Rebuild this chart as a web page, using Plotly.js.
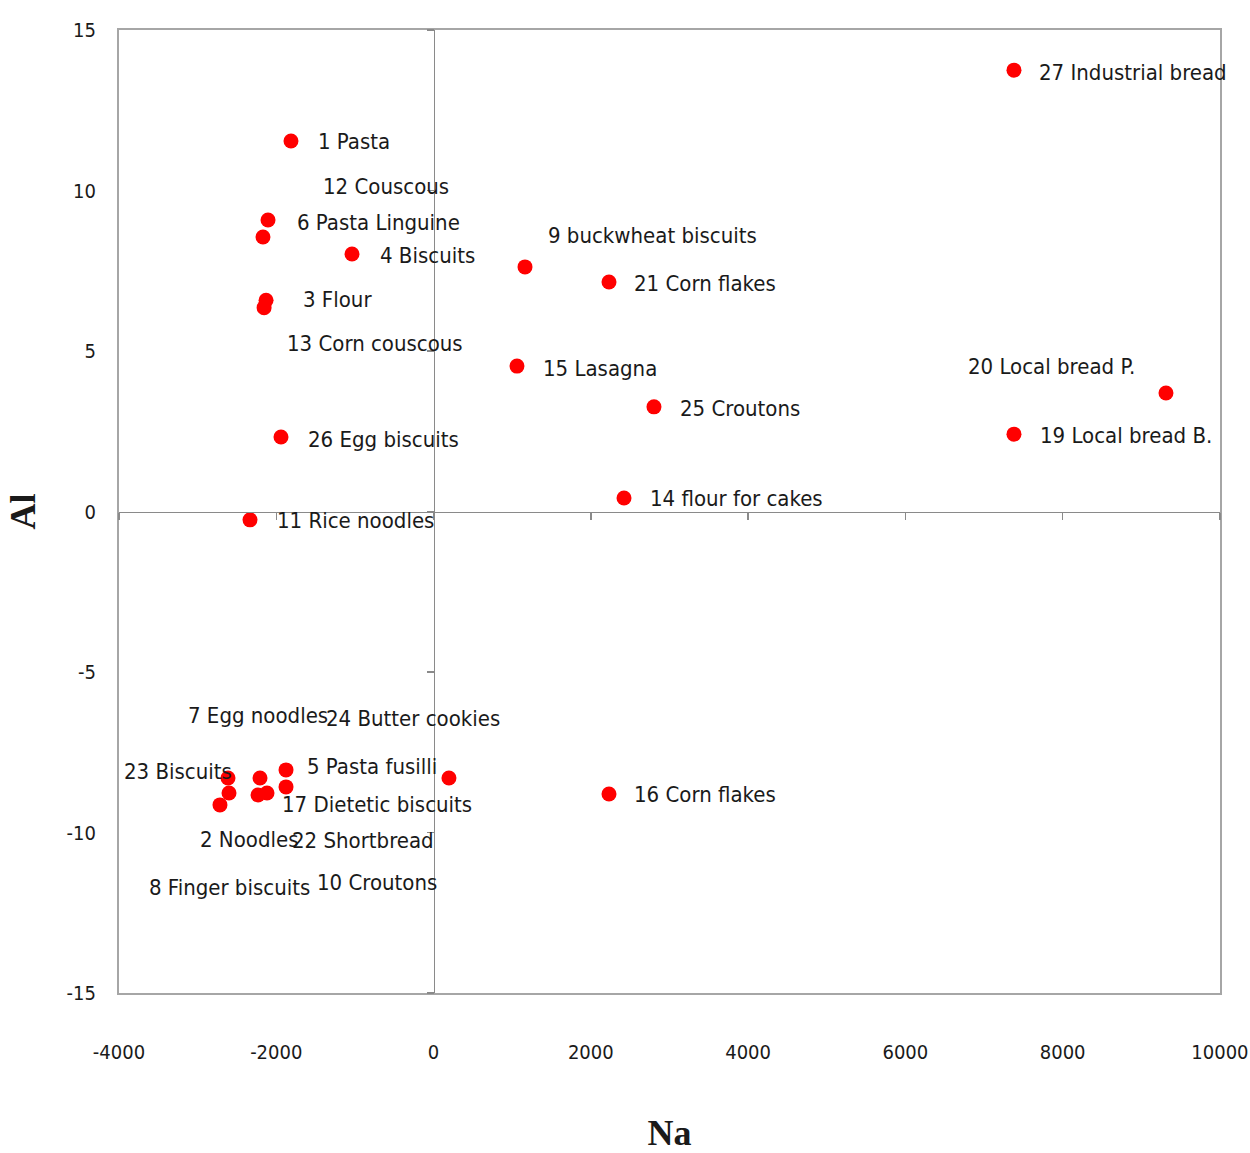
<!DOCTYPE html>
<html>
<head>
<meta charset="utf-8">
<script src="https://cdn.plot.ly/plotly-3.0.1.min.js"></script>
<style>
  html, body { margin: 0; padding: 0; background: #ffffff; }
  #chart { width: 1250px; height: 1153px; }
</style>
</head>
<body>
<div id="chart"></div>
<script>
// Food products: Na (x) vs Al (y)
const names = [
  "1 Pasta", "12 Couscous", "6 Pasta Linguine", "4 Biscuits", "3 Flour",
  "13 Corn couscous", "9 buckwheat biscuits", "21 Corn flakes", "15 Lasagna",
  "25 Croutons", "20 Local bread P.", "19 Local bread B.", "26 Egg biscuits",
  "14 flour for cakes", "11 Rice noodles", "27 Industrial bread", "16 Corn flakes",
  "24 Butter cookies", "7 Egg noodles", "23 Biscuits", "5 Pasta fusilli",
  "17 Dietetic biscuits", "2 Noodles", "22 Shortbread", "8 Finger biscuits",
  "10 Croutons"
];
const naValues = [
  -1813, -2105, -2169, -1037, -2130,
  -2155, 1163, 2231, 1061,
  2803, 9314, 7381, -1940,
  2422, -2334, 7381, 2231,
  196, -2207, -2614, -1876,
  -1876, -2716, -2118, -2601,
  -2232
];
const alValues = [
  11.54, 9.08, 8.55, 8.02, 6.58,
  6.35, 7.62, 7.15, 4.53,
  3.26, 3.69, 2.41, 2.32,
  0.42, -0.26, 13.75, -8.80,
  -8.30, -8.30, -8.30, -8.05,
  -8.58, -9.14, -8.77, -8.77,
  -8.83
];
const xTicks = [-4000, -2000, 0, 2000, 4000, 6000, 8000, 10000];
const yTicks = [-15, -10, -5, 0, 5, 10, 15];

// Pixel offsets of each data label from its point (right, up)
const labelShiftX = [25, 53, 32, 26, 35, 21, 21, 23, 24, 24, -200, 24, 25, 24, 25, 23, 23, -125, -74, -106, 19, -6, -22, 23, -82, 57];
const labelShiftY = [0, 34, 15, -1, 1, -36, 31, -2, -2, -2, 27, -1, -2, 0, -1, -2, -1, 59, 62, 6, 3, -18, -35, -47, -94, -88];

const labelFont = "'DejaVu Sans Condensed', 'Liberation Sans Narrow', sans-serif";
const xRange = [-4000, 10001];
const yRange = [-15, 15];

const traces = [
  {
    type: "scatter",
    mode: "markers",
    x: naValues,
    y: alValues,
    marker: { color: "#ff0000", size: 15, line: { width: 0 } },
    hoverinfo: "text",
    text: names,
    showlegend: false
  },
  {
    // carries the axes that cross at the origin
    type: "scatter",
    mode: "markers",
    x: [],
    y: [],
    xaxis: "x2",
    yaxis: "y2",
    showlegend: false
  }
];

const annotations = names.map((name, i) => ({
  x: naValues[i],
  y: alValues[i],
  xref: "x",
  yref: "y",
  text: name,
  showarrow: false,
  xanchor: "left",
  yanchor: "middle",
  xshift: labelShiftX[i],
  yshift: labelShiftY[i],
  font: { family: labelFont, size: 22, color: "#1a1a1a" }
}));

const tickFont = { family: labelFont, size: 20, color: "#1a1a1a" };

const layout = {
  width: 1250,
  height: 1153,
  margin: { l: 119, r: 30, t: 30, b: 160 },
  paper_bgcolor: "#ffffff",
  plot_bgcolor: "#ffffff",
  showlegend: false,
  xaxis: {
    range: xRange,
    tickvals: xTicks,
    ticktext: xTicks.map(String),
    showgrid: false,
    zeroline: false,
    showline: true,
    mirror: true,
    linecolor: "#a6a6a6",
    linewidth: 2,
    ticks: "",
    ticklabelstandoff: 40,
    tickfont: tickFont,
    title: {
      text: "Na",
      standoff: 59,
      font: { family: "'Liberation Serif', 'DejaVu Serif', serif", size: 36, weight: "bold", color: "#1a1a1a" }
    }
  },
  yaxis: {
    range: yRange,
    tickvals: yTicks,
    ticktext: yTicks.map(String),
    showgrid: false,
    zeroline: false,
    showline: true,
    mirror: true,
    linecolor: "#a6a6a6",
    linewidth: 2,
    ticks: "",
    ticklabelstandoff: 17,
    tickfont: tickFont,
    title: {
      text: "Al",
      standoff: 20,
      font: { family: "'Liberation Serif', 'DejaVu Serif', serif", size: 36, weight: "bold", color: "#1a1a1a" }
    }
  },
  xaxis2: {
    overlaying: "x",
    anchor: "free",
    position: 0.5,
    range: xRange,
    tickvals: xTicks,
    showticklabels: false,
    showgrid: false,
    zeroline: false,
    showline: true,
    linecolor: "#8a8a8a",
    linewidth: 1.5,
    ticks: "outside",
    ticklen: 7,
    tickcolor: "#8a8a8a",
    tickwidth: 1.5
  },
  yaxis2: {
    overlaying: "y",
    anchor: "free",
    position: 4000 / 14001,
    side: "left",
    range: yRange,
    tickvals: yTicks,
    showticklabels: false,
    showgrid: false,
    zeroline: false,
    showline: true,
    linecolor: "#8a8a8a",
    linewidth: 1.5,
    ticks: "outside",
    ticklen: 7,
    tickcolor: "#8a8a8a",
    tickwidth: 1.5
  },
  annotations: annotations
};

Plotly.newPlot("chart", traces, layout, { staticPlot: true, displayModeBar: false });
</script>
</body>
</html>
